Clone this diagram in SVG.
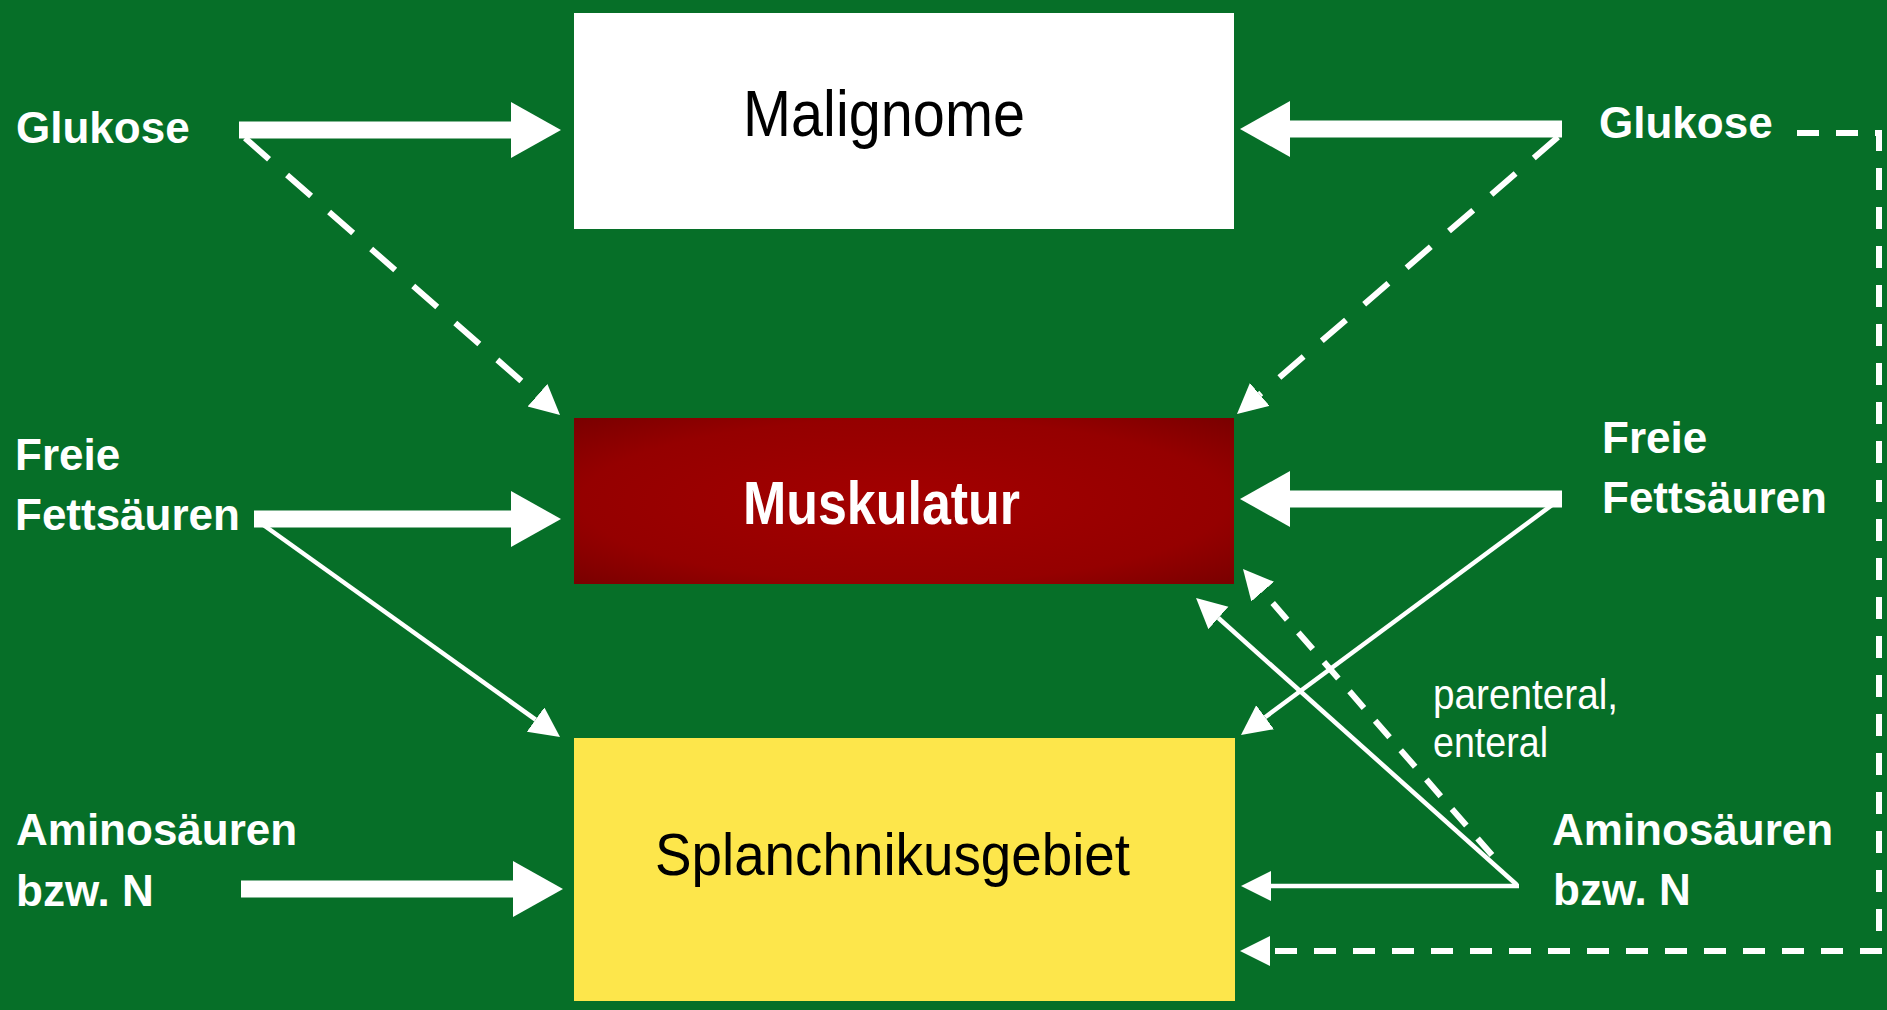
<svg xmlns="http://www.w3.org/2000/svg" width="1887" height="1010" viewBox="0 0 1887 1010">
  <style>
    .lbl { font-family: "Liberation Sans", Arial, sans-serif; font-weight: bold; font-size: 44px; fill: #ffffff; }
    .note { font-family: "Liberation Sans", Arial, sans-serif; font-size: 42px; fill: #ffffff; }
    .box-title { font-family: "Liberation Sans", Arial, sans-serif; }
    .thick { stroke: #ffffff; stroke-width: 17; fill: none; marker-end: url(#bigHead); }
    .thin { stroke: #ffffff; stroke-width: 4.5; fill: none; marker-end: url(#smallHead); }
    .dash { stroke: #ffffff; stroke-width: 6; fill: none; stroke-dasharray: 32 24; marker-end: url(#smallHead); }
    .dash2 { stroke: #ffffff; stroke-width: 6; fill: none; stroke-dasharray: 22 17; marker-end: url(#smallHead); }
  </style>
  <defs>
    <marker id="bigHead" markerUnits="userSpaceOnUse" markerWidth="52" markerHeight="58" refX="0" refY="28" orient="auto">
      <path d="M0,0 L50,28 L0,56 z" fill="#ffffff"/>
    </marker>
    <marker id="smallHead" markerUnits="userSpaceOnUse" markerWidth="32" markerHeight="32" refX="0" refY="15" orient="auto">
      <path d="M0,0 L30,15 L0,30 z" fill="#ffffff"/>
    </marker>
    <radialGradient id="redGrad" cx="0.5" cy="0.5" r="0.7">
      <stop offset="0" stop-color="#a30000"/>
      <stop offset="0.7" stop-color="#950000"/>
      <stop offset="1" stop-color="#7a0000"/>
    </radialGradient>
  </defs>

  <rect x="0" y="0" width="1887" height="1010" fill="#066f28"/>

  <g id="node-malignome">
    <rect x="574" y="13" width="660" height="216" fill="#ffffff"/>
    <text class="box-title" x="743" y="136" font-size="64" fill="#000000" textLength="282" lengthAdjust="spacingAndGlyphs">Malignome</text>
  </g>
  <g id="node-muskulatur">
    <rect x="574" y="418" width="660" height="166" fill="url(#redGrad)"/>
    <text class="box-title" x="743" y="524" font-size="62" font-weight="bold" fill="#ffffff" textLength="277" lengthAdjust="spacingAndGlyphs">Muskulatur</text>
  </g>
  <g id="node-splanchnikus">
    <rect x="574" y="738" width="661" height="263" fill="#fde64b"/>
    <text class="box-title" x="655" y="875" font-size="60" fill="#000000" textLength="475" lengthAdjust="spacingAndGlyphs">Splanchnikusgebiet</text>
  </g>

  <g id="label-left-glukose"><text class="lbl" x="16" y="143">Glukose</text></g>
  <g id="label-left-fett"><text class="lbl" x="15" y="470">Freie</text><text class="lbl" x="15" y="530">Fettsäuren</text></g>
  <g id="label-left-amino"><text class="lbl" x="16" y="845">Aminosäuren</text><text class="lbl" x="16" y="906">bzw. N</text></g>
  <g id="label-right-glukose"><text class="lbl" x="1599" y="138">Glukose</text></g>
  <g id="label-right-fett"><text class="lbl" x="1602" y="453">Freie</text><text class="lbl" x="1602" y="513">Fettsäuren</text></g>
  <g id="label-right-amino"><text class="lbl" x="1552" y="845">Aminosäuren</text><text class="lbl" x="1553" y="905">bzw. N</text></g>
  <g id="label-parenteral">
    <text class="note" x="1433" y="709" textLength="185" lengthAdjust="spacingAndGlyphs">parenteral,</text>
    <text class="note" x="1433" y="757" textLength="115" lengthAdjust="spacingAndGlyphs">enteral</text>
  </g>

  <g id="connectors">
    <line class="thick" x1="239" y1="130" x2="511" y2="130"/>
    <line class="thick" x1="254" y1="519" x2="511" y2="519"/>
    <line class="thick" x1="241" y1="889" x2="513" y2="889"/>
    <line class="thick" x1="1562" y1="129" x2="1290" y2="129"/>
    <line class="thick" x1="1562" y1="499" x2="1290" y2="499"/>

    <line class="dash" x1="245" y1="138" x2="537.5" y2="395.2"/>
    <line class="thin" x1="262" y1="524" x2="535.6" y2="719.6"/>
    <line class="dash" x1="1558" y1="137" x2="1259.7" y2="394.4"/>
    <line class="thin" x1="1552" y1="505" x2="1265.1" y2="717.2"/>
    <line class="thin" x1="1519" y1="886" x2="1271" y2="886"/>
    <line class="thin" x1="1517" y1="885" x2="1218.4" y2="618"/>
    <line class="dash2" x1="1492" y1="855" x2="1262.7" y2="591.6"/>
    <path class="dash2" d="M1797,133 H1879 V951 H1270"/>
  </g>
</svg>
